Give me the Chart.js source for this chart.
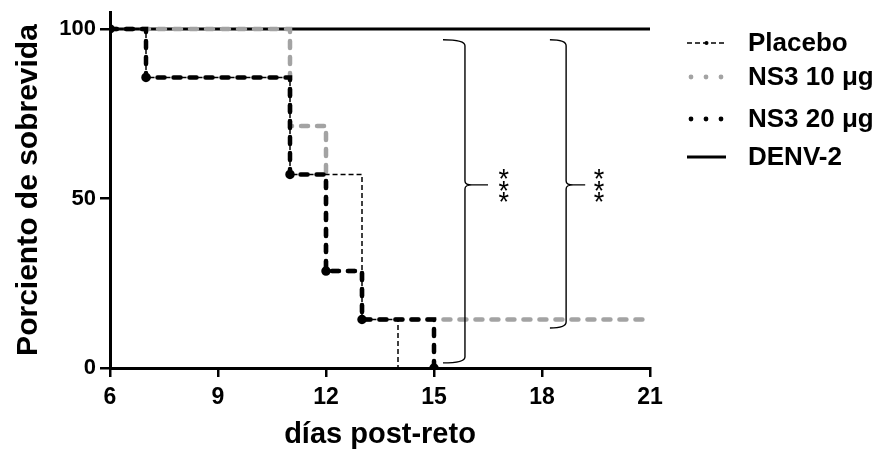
<!DOCTYPE html>
<html>
<head>
<meta charset="utf-8">
<script src="https://cdn.jsdelivr.net/npm/chart.js@4.4.1/dist/chart.umd.min.js"></script>
<style>
    html, body { margin: 0; padding: 0; background: #ffffff; }
    #wrap { width: 879px; height: 449px; position: relative; }
</style>
</head>
<body>
<div id="wrap"><canvas id="sobrevidaChart"></canvas></div>
<script>
// Kaplan-Meier survival data (days post-challenge, % survival)
const seriesLabels = ['Placebo', 'NS3 10 μg', 'NS3 20 μg', 'DENV-2'];

const placeboDays = [6, 7, 11, 13, 14];
const placeboSurvival = [100, 85.7, 57.1, 14.3, 0];

const ns3_10Days = [6, 11, 12, 13, 21];
const ns3_10Survival = [100, 71.4, 28.6, 14.3, 14.3];

const ns3_20Days = [6, 7, 11, 12, 13, 15];
const ns3_20Survival = [100, 85.7, 57.1, 28.6, 14.3, 0];

const denvDays = [6, 21];
const denvSurvival = [100, 100];

const xTicks = [6, 9, 12, 15, 18, 21];
const yTicks = [0, 50, 100];

// significance brackets, in data units: [hook x, spine x, tip x, top y, middle y, bottom y, stars x]
const bracketMarks = [
    [15.25, 15.86, 16.5, 96.8, 54.0, 1.5, 16.94],
    [18.22, 18.67, 19.2, 96.8, 54.0, 11.8, 19.58]
];
const starLabel = '*';

const FONT = '"Liberation Sans", Arial, sans-serif';

function toPoints(days, values) {
    return days.map(function (d, i) {
        return { x: d, y: values[i] };
    });
}

Chart.defaults.font.family = FONT;
Chart.defaults.color = '#000000';

const datasets = [
    {
        label: seriesLabels[0],
        data: toPoints(placeboDays, placeboSurvival),
        borderColor: '#000000',
        backgroundColor: '#000000',
        borderWidth: 1.5,
        borderDash: [5, 3],
        pointRadius: 0,
        stepped: 'before'
    },
    {
        label: seriesLabels[2],
        data: toPoints(ns3_20Days, ns3_20Survival),
        borderColor: '#000000',
        backgroundColor: '#000000',
        borderWidth: 4.5,
        borderDash: [7, 9],
        borderCapStyle: 'round',
        pointRadius: 2.5,
        stepped: 'before'
    },
    {
        label: seriesLabels[1],
        data: toPoints(ns3_10Days, ns3_10Survival),
        borderColor: '#a3a3a3',
        backgroundColor: '#a3a3a3',
        borderWidth: 4.5,
        borderDash: [7, 9],
        borderCapStyle: 'round',
        pointRadius: 0,
        stepped: 'before'
    },
    {
        label: seriesLabels[3],
        data: toPoints(denvDays, denvSurvival),
        borderColor: '#000000',
        borderWidth: 3,
        pointRadius: 0,
        stepped: 'before'
    }
];

const legendRows = [
    { label: seriesLabels[0], y: 43, kind: 'thinDash', color: '#000000' },
    { label: seriesLabels[1], y: 77, kind: 'dots', color: '#a3a3a3' },
    { label: seriesLabels[2], y: 119, kind: 'dots', color: '#000000' },
    { label: seriesLabels[3], y: 157, kind: 'solid', color: '#000000' }
];

const annotationPlugin = {
    id: 'annotations',
    afterDraw: function (chart) {
        const ctx = chart.ctx;
        const xs = chart.scales.x;
        const ys = chart.scales.y;

        // brackets + stars
        ctx.save();
        ctx.strokeStyle = '#000000';
        ctx.lineWidth = 1.4;
        bracketMarks.forEach(function (b) {
            const x0 = xs.getPixelForValue(b[0]);
            const x1 = xs.getPixelForValue(b[1]);
            const x2 = xs.getPixelForValue(b[2]);
            const yTop = ys.getPixelForValue(b[3]);
            const yMid = ys.getPixelForValue(b[4]);
            const yBot = ys.getPixelForValue(b[5]);
            const r = 6;
            ctx.beginPath();
            ctx.moveTo(x0, yTop);
            ctx.quadraticCurveTo(x1, yTop, x1, yTop + r);
            ctx.lineTo(x1, yMid - 4);
            ctx.quadraticCurveTo(x1, yMid, x1 + 7, yMid);
            ctx.lineTo(x2, yMid);
            ctx.moveTo(x1 + 7, yMid);
            ctx.quadraticCurveTo(x1, yMid, x1, yMid + 4);
            ctx.lineTo(x1, yBot - r);
            ctx.quadraticCurveTo(x1, yBot, x0, yBot);
            ctx.stroke();

            const sx = xs.getPixelForValue(b[6]);
            ctx.fillStyle = '#000000';
            ctx.font = '27px ' + FONT;
            ctx.textAlign = 'center';
            ctx.textBaseline = 'alphabetic';
            for (let k = -1; k <= 1; k++) {
                ctx.fillText(starLabel, sx, yMid + k * 11.5 + 15);
            }
        });
        ctx.restore();

        // legend
        ctx.save();
        const lx0 = 687;
        const lx1 = 726;
        legendRows.forEach(function (row) {
            ctx.strokeStyle = row.color;
            ctx.fillStyle = row.color;
            if (row.kind === 'thinDash') {
                ctx.lineWidth = 1.5;
                ctx.setLineDash([5, 3]);
                ctx.beginPath();
                ctx.moveTo(lx0, row.y);
                ctx.lineTo(lx1, row.y);
                ctx.stroke();
                ctx.setLineDash([]);
                ctx.beginPath();
                ctx.arc((lx0 + lx1) / 2, row.y, 2, 0, Math.PI * 2);
                ctx.fill();
            } else if (row.kind === 'dots') {
                [691, 706, 721].forEach(function (cx) {
                    ctx.beginPath();
                    ctx.arc(cx, row.y, 2.4, 0, Math.PI * 2);
                    ctx.fill();
                });
            } else {
                ctx.lineWidth = 3;
                ctx.beginPath();
                ctx.moveTo(lx0, row.y);
                ctx.lineTo(lx1, row.y);
                ctx.stroke();
            }
            ctx.fillStyle = '#000000';
            ctx.font = 'bold 26px ' + FONT;
            ctx.textAlign = 'left';
            ctx.textBaseline = 'middle';
            ctx.fillText(row.label, 748, row.y + 1);
        });
        ctx.restore();
    }
};

new Chart(document.getElementById('sobrevidaChart'), {
    type: 'line',
    data: { datasets: datasets },
    options: {
        responsive: true,
        maintainAspectRatio: false,
        animation: false,
        layout: {
            padding: { top: 12, right: 229, bottom: 0, left: 0 }
        },
        plugins: {
            legend: { display: false },
            tooltip: { enabled: false }
        },
        scales: {
            x: {
                type: 'linear',
                min: 6,
                max: 21,
                afterBuildTicks: function (scale) {
                    scale.ticks = xTicks.map(function (v) { return { value: v }; });
                },
                afterFit: function (scale) {
                    scale.height = 81;
                },
                border: { display: true, color: '#000000', width: 3 },
                grid: {
                    display: true,
                    drawOnChartArea: false,
                    drawTicks: true,
                    tickLength: 9,
                    color: '#000000',
                    lineWidth: 2.5
                },
                ticks: {
                    color: '#000000',
                    padding: 7,
                    maxRotation: 0,
                    font: { size: 23, weight: 'bold' }
                },
                title: {
                    display: true,
                    text: 'días post-reto',
                    color: '#000000',
                    padding: { top: 0, bottom: 0 },
                    font: { size: 29, weight: 'bold', lineHeight: 1 }
                }
            },
            y: {
                type: 'linear',
                min: 0,
                max: 105,
                afterBuildTicks: function (scale) {
                    scale.ticks = yTicks.map(function (v) { return { value: v }; });
                },
                afterFit: function (scale) {
                    scale.width = 110;
                    scale.paddingTop = 0;
                    scale.paddingBottom = 0;
                },
                border: { display: true, color: '#000000', width: 3 },
                grid: {
                    display: true,
                    drawOnChartArea: false,
                    drawTicks: true,
                    tickLength: 10,
                    color: '#000000',
                    lineWidth: 2.5
                },
                ticks: {
                    color: '#000000',
                    padding: 4,
                    font: { size: 22, weight: 'bold' }
                },
                title: {
                    display: true,
                    text: 'Porciento de sobrevida',
                    color: '#000000',
                    padding: { top: 14, bottom: 0 },
                    font: { size: 30, weight: 'bold', lineHeight: 1 }
                }
            }
        }
    },
    plugins: [annotationPlugin]
});
</script>
</body>
</html>
